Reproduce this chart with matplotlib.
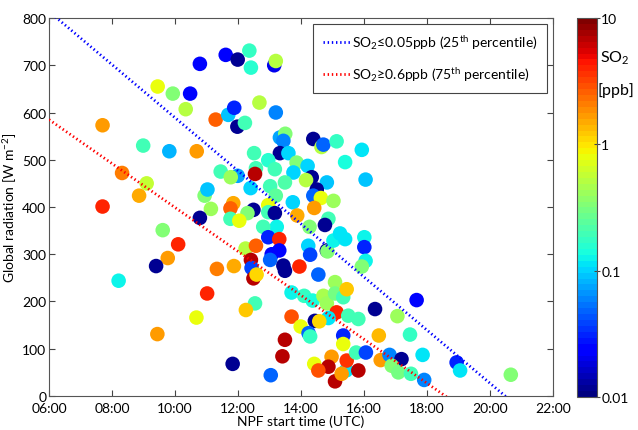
import numpy as np
import matplotlib
matplotlib.use("Agg")
import matplotlib.pyplot as plt
from matplotlib.colors import LogNorm
from matplotlib.ticker import FuncFormatter, MultipleLocator

plt.rcParams['font.family'] = ['Lato', 'DejaVu Sans']
plt.rcParams['mathtext.fontset'] = 'custom'
plt.rcParams['mathtext.rm'] = 'Lato'
plt.rcParams['mathtext.it'] = 'Lato'

# NPF start time (hours UTC), global radiation (W m-2), SO2 (ppb)
start_time = [
    7.70, 9.45, 9.93, 10.48, 10.79, 10.34, 11.29, 11.69, 11.98, 12.22,
    11.88, 12.68, 11.61, 11.99, 12.36, 12.41, 8.99, 9.82, 10.69, 8.32,
    9.10, 8.86, 7.70, 11.45, 11.99, 11.77, 12.57, 12.54, 12.40, 10.94,
    11.03, 11.14, 11.85, 11.76, 12.49, 12.30, 10.79, 9.61, 10.10, 9.77,
    9.40, 8.21, 11.33, 11.87, 11.02, 10.68, 9.44, 11.83, 12.24, 12.41,
    12.43, 12.49, 12.59, 12.54, 12.25, 12.57, 11.76, 12.04, 13.15, 13.20,
    13.20, 13.33, 13.50, 13.44, 14.39, 14.65, 14.71, 15.13, 15.93, 15.40,
    16.05, 12.51, 13.33, 13.60, 12.96, 13.86, 14.21, 13.17, 13.76, 14.34,
    14.16, 14.82, 13.02, 13.49, 14.50, 14.39, 14.63, 15.03, 13.20, 13.74,
    14.42, 12.96, 12.96, 13.17, 13.88, 14.87, 13.23, 12.80, 14.27, 14.76,
    12.96, 13.31, 14.23, 14.29, 14.82, 14.84, 15.03, 15.24, 13.07, 13.31,
    13.02, 13.44, 13.49, 13.95, 14.55, 13.70, 14.10, 14.37, 15.08, 14.71,
    14.82, 15.08, 15.34, 15.45, 15.13, 14.87, 14.44, 14.58, 13.70, 13.99,
    14.24, 14.29, 13.49, 13.41, 13.04, 15.34, 15.34, 14.42, 14.97, 14.87,
    14.55, 15.08, 15.43, 15.45, 15.50, 15.82, 15.75, 16.06, 15.82, 16.35,
    16.01, 16.01, 15.40, 16.05, 15.93, 17.67, 17.06, 16.47, 17.46, 17.86,
    16.53, 16.81, 17.19, 16.88, 17.09, 17.49, 17.91, 18.94, 19.05, 20.66,
    15.29,
]
radiation = [
    573, 655, 640, 640, 703, 607, 585, 595, 570, 578,
    610, 621, 722, 712, 731, 695, 530, 518, 518, 472,
    450, 424, 401, 475, 466, 463, 482, 470, 440, 424,
    437, 396, 408, 397, 394, 387, 377, 351, 321, 292,
    275, 244, 269, 275, 217, 166, 131, 68, 312, 288,
    271, 249, 257, 196, 182, 318, 375, 371, 700, 709,
    600, 547, 555, 540, 544, 527, 532, 539, 521, 495,
    458, 514, 514, 514, 499, 494, 487, 480, 473, 463,
    457, 452, 444, 452, 437, 424, 419, 413, 424, 410,
    398, 404, 389, 387, 382, 375, 358, 358, 358, 362,
    336, 332, 318, 299, 308, 306, 329, 344, 300, 308,
    288, 276, 265, 274, 257, 219, 212, 202, 241, 212,
    196, 217, 209, 226, 177, 165, 159, 158, 168, 147,
    133, 126, 119, 84, 44, 128, 110, 68, 83, 62,
    54, 31, 54, 75, 170, 163, 92, 92, 54, 184,
    336, 315, 332, 286, 274, 203, 169, 128, 130, 87,
    76, 87, 78, 64, 50, 47, 34, 71, 54, 45,
    47,
]
so2 = [
    1.6, 0.75, 0.32, 0.025, 0.025, 0.5, 2.5, 0.09, 0.012, 0.2,
    0.03, 0.5, 0.022, 0.012, 0.18, 0.16, 0.2, 0.085, 1.6, 2.0,
    0.6, 1.5, 4.0, 0.2, 0.07, 0.4, 0.2, 7.0, 0.1, 0.35,
    0.09, 0.4, 1.5, 2.5, 0.012, 0.35, 0.012, 0.35, 4.0, 1.6,
    0.012, 0.12, 2.0, 1.5, 4.0, 0.75, 1.6, 0.012, 0.5, 7.0,
    0.04, 7.0, 1.1, 0.2, 1.2, 2.5, 0.2, 0.75, 0.02, 0.5,
    0.06, 0.07, 0.35, 0.06, 0.012, 0.5, 0.05, 0.17, 0.11, 0.14,
    0.09, 0.2, 0.012, 0.1, 0.15, 0.35, 0.1, 0.2, 0.1, 0.012,
    0.5, 0.09, 0.2, 0.22, 0.012, 0.05, 0.75, 0.4, 0.25, 0.1,
    1.7, 0.75, 0.2, 0.012, 1.5, 0.2, 0.12, 0.2, 0.35, 0.012,
    0.03, 4.0, 0.1, 0.04, 0.012, 0.35, 0.12, 0.11, 0.025, 0.025,
    0.05, 0.012, 0.012, 4.0, 0.05, 0.12, 0.18, 0.14, 0.4, 0.45,
    0.4, 0.3, 0.2, 1.2, 4.0, 0.11, 0.012, 1.1, 3.0, 0.75,
    0.05, 0.18, 7.0, 7.0, 0.05, 0.03, 0.75, 0.75, 1.6, 7.0,
    2.8, 7.0, 0.11, 3.5, 0.2, 0.2, 0.2, 0.04, 7.0, 0.012,
    0.12, 0.03, 0.11, 0.12, 0.35, 0.025, 0.4, 1.3, 0.18, 0.11,
    1.6, 0.06, 0.012, 0.35, 0.3, 0.2, 0.06, 0.03, 0.11, 0.35,
    1.6,
]

# linear fits (intercept, slope per hour) for low / high SO2 days
fit_low = (1151.0, -56.2)
fit_high = (864.0, -46.5)
fit_hours = [6.0, 21.0]

fig = plt.figure(figsize=(6.38, 4.31), dpi=100)
ax = fig.add_axes([0.0768, 0.0789, 0.79, 0.877])
cax = fig.add_axes([0.9044, 0.0766, 0.0313, 0.8793])

cmap = plt.get_cmap('jet', 64)
sc = ax.scatter(start_time, radiation, c=so2, cmap=cmap,
                norm=LogNorm(vmin=0.01, vmax=10), s=110, linewidths=0, zorder=2)

th = np.array(fit_hours)
ax.plot(th, fit_low[0] + fit_low[1] * th, color='blue', lw=2.0,
        dashes=(0.5, 1.0), zorder=3,
        label='SO$_2$≤0.05ppb (25$^{th}$ percentile)')
ax.plot(th, fit_high[0] + fit_high[1] * th, color='red', lw=2.0,
        dashes=(0.5, 1.0), zorder=3,
        label='SO$_2$≥0.6ppb (75$^{th}$ percentile)')

ax.set_xlim(6, 22)
ax.set_ylim(0, 800)
ax.xaxis.set_major_locator(MultipleLocator(2))
ax.yaxis.set_major_locator(MultipleLocator(100))
ax.xaxis.set_major_formatter(FuncFormatter(lambda v, p: f"{int(round(v)):02d}:00"))
ax.tick_params(direction='in', top=True, right=True, labelsize=10, length=4,
               color='#444444', pad=2)
ax.tick_params(axis='x', pad=4)
for sp in ax.spines.values():
    sp.set_color('#555555')
ax.set_xlabel('NPF start time (UTC)', fontsize=10, labelpad=1)
ax.set_ylabel('Global radiation [W m$^{-2}$]', fontsize=10, labelpad=2)

leg = ax.legend(loc='upper right', fontsize=10, handlelength=2.0,
                handletextpad=0.1, labelspacing=1.0, borderpad=0.7,
                fancybox=False, framealpha=1, edgecolor='#444444',
                borderaxespad=0.4)
leg.get_frame().set_linewidth(0.8)

cb = fig.colorbar(sc, cax=cax, ticks=[0.01, 0.1, 1, 10])
cb.ax.set_yticklabels(['0.01', '0.1', '1', '10'])
cb.ax.minorticks_off()
cb.ax.tick_params(labelsize=10, length=4, direction='inout', color='#444444', pad=1)
cb.outline.set_edgecolor('#555555')
fig.text(0.94, 0.865, 'SO$_2$', fontsize=11.5, ha='left', va='center')
fig.text(0.937, 0.79, '[ppb]', fontsize=11.5, ha='left', va='center')

fig.savefig('out.png', dpi=100)
